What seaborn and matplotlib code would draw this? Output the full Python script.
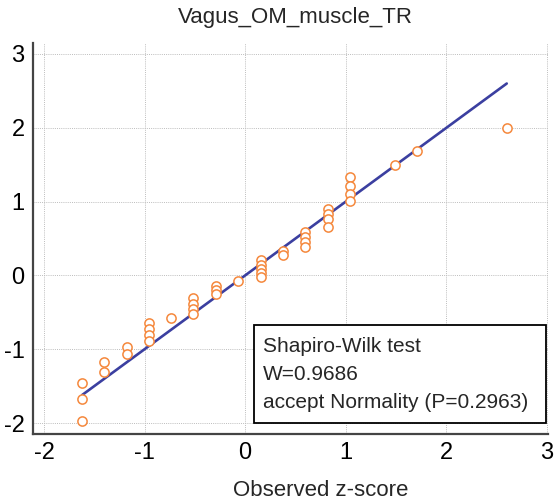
import matplotlib
matplotlib.use("Agg")
import matplotlib.pyplot as plt
import matplotlib.patches as mpatches
from matplotlib.ticker import MultipleLocator
import seaborn as sns
import pandas as pd

# ---------------- data ----------------
observed_z = [-1.62, -1.62, -1.62,
              -1.40, -1.40,
              -1.175, -1.175,
              -0.956, -0.956, -0.956, -0.956,
              -0.738,
              -0.516, -0.516, -0.516, -0.516,
              -0.29, -0.29, -0.29,
              -0.068,
              0.16, 0.16, 0.16, 0.16, 0.16,
              0.379, 0.379,
              0.598, 0.598, 0.598, 0.598,
              0.82, 0.82, 0.82, 0.82,
              1.042, 1.042, 1.042, 1.042,
              1.489,
              1.71,
              2.60]
expected_z = [-1.46, -1.675, -1.977,
              -1.18, -1.31,
              -0.974, -1.07,
              -0.65, -0.726, -0.81, -0.893,
              -0.58,
              -0.31, -0.39, -0.46, -0.52,
              -0.14, -0.20, -0.25,
              -0.076,
              0.209, 0.145, 0.087, 0.033, -0.017,
              0.335, 0.272,
              0.584, 0.516, 0.453, 0.389,
              0.90, 0.83, 0.76, 0.66,
              1.337, 1.21, 1.10, 1.008,
              1.49,
              1.69,
              2.00]

title = "Vagus_OM_muscle_TR"
x_label = "Observed z-score"
test_lines = ["Shapiro-Wilk test", "W=0.9686", "accept Normality (P=0.2963)"]

df = pd.DataFrame({"observed": observed_z, "expected": expected_z})

# reference line y = x over the range of the data
line_df = pd.DataFrame({"x": [df["observed"].min(), df["observed"].max()]})
line_df["y"] = line_df["x"]

# ---------------- style ----------------
sns.set_style("white")
plt.rcParams["font.family"] = ["Liberation Sans", "DejaVu Sans"]
plt.rcParams["axes.unicode_minus"] = False

fig = plt.figure(figsize=(5.56, 5.03), dpi=100)
ax = fig.add_axes([33 / 556, 69 / 503, (548 - 33) / 556, (434 - 43) / 503])

ax.set_xlim(-2.109, 3.01)
ax.set_ylim(-2.149, 3.149)

# grid
ax.xaxis.set_major_locator(MultipleLocator(1))
ax.yaxis.set_major_locator(MultipleLocator(1))
ax.xaxis.set_minor_locator(MultipleLocator(0.5))
ax.yaxis.set_minor_locator(MultipleLocator(0.5))
ax.grid(True, which="major", color="#bdbdbd", linestyle=(0, (1, 1.2)), linewidth=0.7)
ax.set_axisbelow(True)

# line and points
sns.lineplot(data=line_df, x="x", y="y", color="#3b3fa0", linewidth=1.9, ax=ax, zorder=3)
sns.scatterplot(data=df, x="observed", y="expected", ax=ax, marker="o", s=44,
                facecolor="white", edgecolor="#f5883c", linewidth=1.1, zorder=4)

# spines
for side in ["top", "right"]:
    ax.spines[side].set_visible(False)
for side in ["left", "bottom"]:
    ax.spines[side].set_color("#444444")
    ax.spines[side].set_linewidth(1.6)

ax.tick_params(which="major", direction="in", length=8, width=1.6, color="#444444",
               labelsize=17, pad=6, labelcolor="black")
ax.tick_params(which="minor", direction="in", length=3.5, width=1.0, color="#444444")
ax.set_xticks([-2, -1, 0, 1, 2, 3])
ax.set_yticks([-2, -1, 0, 1, 2, 3])
ax.set_xlabel("")
ax.set_ylabel("")

# title and axis label
fig.text(295 / 556, 1 - 18 / 503, title, ha="center", va="center", fontsize=16)
fig.text(321 / 556, 1 - 491 / 503, x_label, ha="center", va="center", fontsize=16)

# Shapiro-Wilk box
box = mpatches.Rectangle((254 / 556, 1 - 423 / 503), (546 - 254) / 556, (423 - 325) / 503,
                         transform=fig.transFigure, facecolor="white", edgecolor="black",
                         linewidth=1.3, zorder=5)
fig.patches.append(box)
for i, line in enumerate(test_lines):
    fig.text(263 / 556, 1 - (347 + 27.5 * i) / 503, line, ha="left", va="center",
             fontsize=15, zorder=6)

fig.savefig("out.png", dpi=100)
